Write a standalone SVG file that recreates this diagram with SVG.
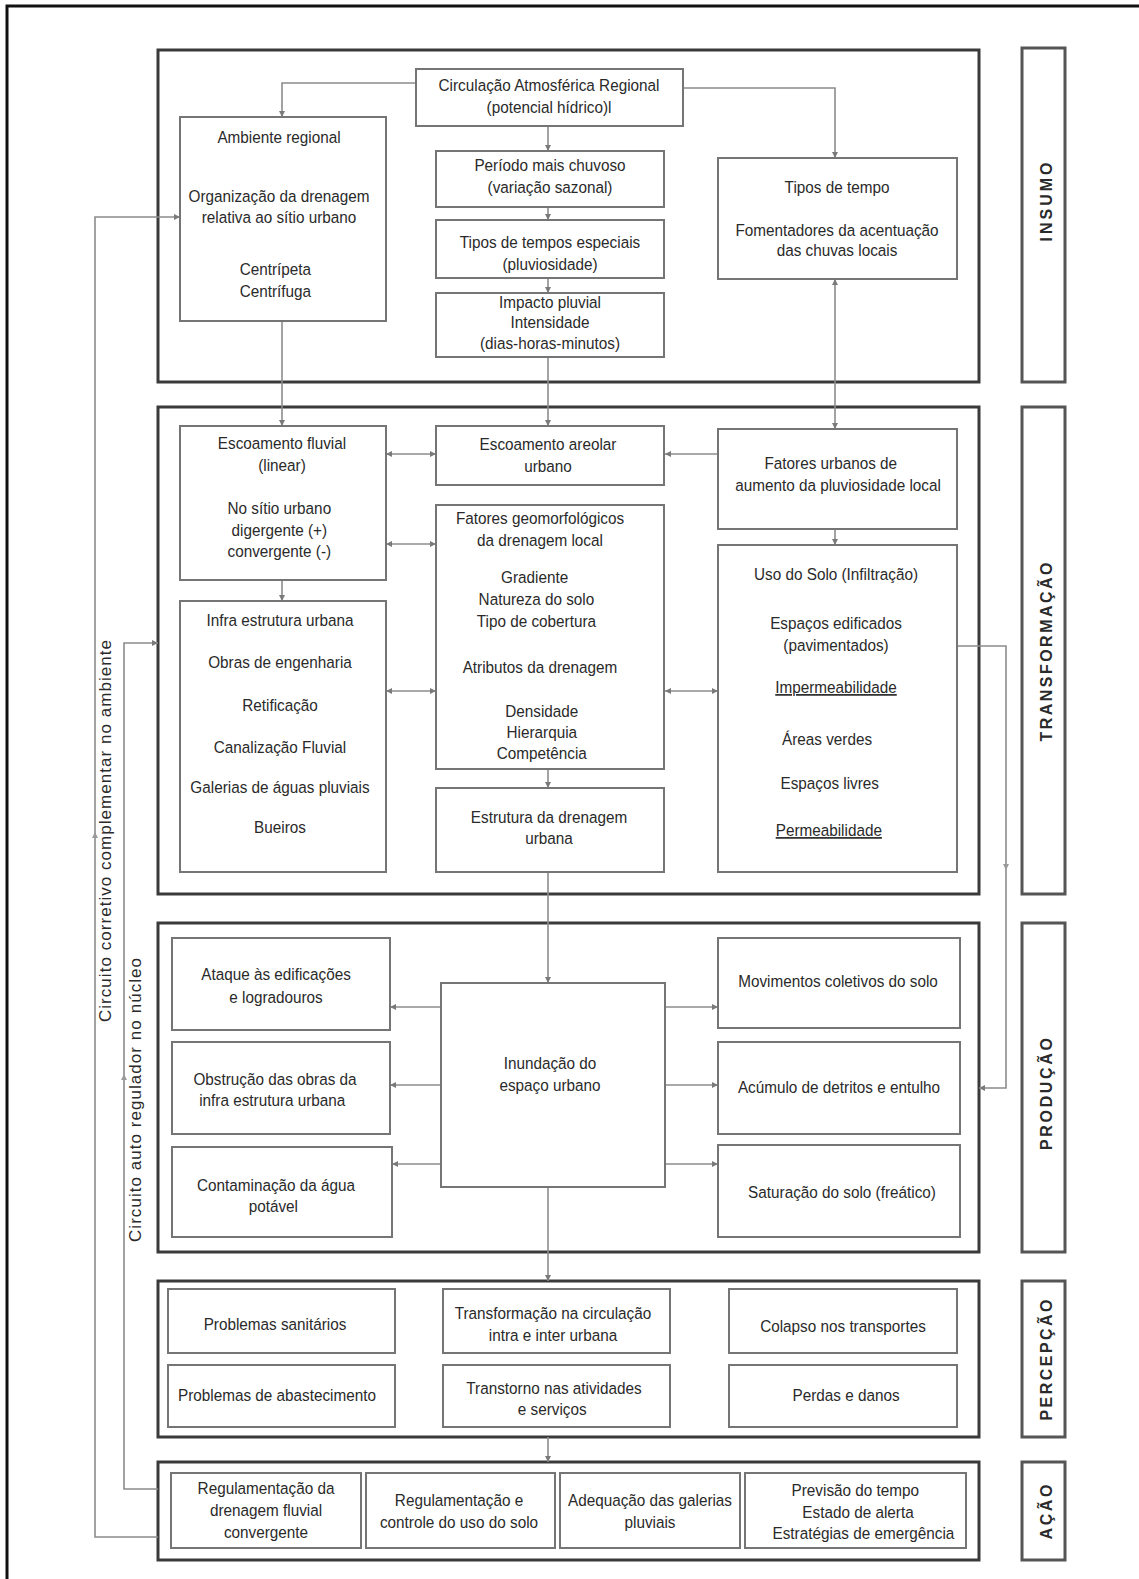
<svg xmlns="http://www.w3.org/2000/svg" width="1139" height="1579" viewBox="0 0 1139 1579">
<defs>
<style>
.sec{fill:none;stroke:#3a3a3a;stroke-width:3}
.lab{fill:none;stroke:#555;stroke-width:3}
.box{fill:#fff;stroke:#757575;stroke-width:2}
.t{font-family:"Liberation Sans",Arial,sans-serif;font-size:17px;fill:#2a2a2a;text-anchor:middle}
.sl{font-family:"Liberation Sans",Arial,sans-serif;font-size:16px;font-weight:bold;fill:#2a2a2a;text-anchor:middle}
.ct{font-family:"Liberation Sans",Arial,sans-serif;font-size:17px;fill:#2a2a2a;text-anchor:middle}
.c{fill:none;stroke:#8c8c8c;stroke-width:1.6}
.u{text-decoration:underline}
</style>
<marker id="ah" viewBox="0 0 6 6" refX="6" refY="3" markerWidth="6" markerHeight="6" markerUnits="userSpaceOnUse" orient="auto-start-reverse">
<path d="M0,0 L6,3 L0,6 z" fill="#7a7a7a"/>
</marker>
</defs>
<rect width="1139" height="1579" fill="#fff"/>
<rect x="7" y="6" width="1200" height="1700" fill="none" stroke="#111" stroke-width="3"/>

<g id="sections">
<rect class="sec" x="158" y="50" width="821" height="332"/>
<rect class="sec" x="158" y="407" width="821" height="487"/>
<rect class="sec" x="158" y="923" width="821" height="329"/>
<rect class="sec" x="158" y="1281" width="821" height="156"/>
<rect class="sec" x="158" y="1462" width="821" height="98"/>
</g>

<g id="labels">
<g id="lab-insumo"><rect class="lab" x="1022" y="48" width="43" height="334"/><text class="sl" transform="translate(1052 202) rotate(-90)" textLength="79" lengthAdjust="spacing">INSUMO</text></g>
<g id="lab-transformacao"><rect class="lab" x="1022" y="407" width="43" height="487"/><text class="sl" transform="translate(1052 652) rotate(-90)" textLength="179" lengthAdjust="spacing">TRANSFORMAÇÃO</text></g>
<g id="lab-producao"><rect class="lab" x="1022" y="923" width="43" height="329"/><text class="sl" transform="translate(1052 1094) rotate(-90)" textLength="112" lengthAdjust="spacing">PRODUÇÃO</text></g>
<g id="lab-percepcao"><rect class="lab" x="1022" y="1281" width="43" height="156"/><text class="sl" transform="translate(1052 1360) rotate(-90)" textLength="121" lengthAdjust="spacing">PERCEPÇÃO</text></g>
<g id="lab-acao"><rect class="lab" x="1022" y="1462" width="43" height="98"/><text class="sl" transform="translate(1052 1512) rotate(-90)" textLength="55" lengthAdjust="spacing">AÇÃO</text></g>
</g>

<g id="connectors">
<path class="c" d="M416,83 H282 V117" marker-end="url(#ah)"/>
<path class="c" d="M683,88 H835 V158" marker-end="url(#ah)"/>
<path class="c" d="M548,126 V151" marker-end="url(#ah)"/>
<path class="c" d="M548,207 V220" marker-end="url(#ah)"/>
<path class="c" d="M548,278 V293" marker-end="url(#ah)"/>
<path class="c" d="M548,357 V426" marker-end="url(#ah)"/>
<path class="c" d="M282,321 V426" marker-end="url(#ah)"/>
<path class="c" d="M835,279 V429" marker-start="url(#ah)" marker-end="url(#ah)"/>
<path class="c" d="M436,454 H386" marker-start="url(#ah)" marker-end="url(#ah)"/>
<path class="c" d="M718,454 H665" marker-end="url(#ah)"/>
<path class="c" d="M436,544 H386" marker-start="url(#ah)" marker-end="url(#ah)"/>
<path class="c" d="M282,580 V601" marker-end="url(#ah)"/>
<path class="c" d="M436,691 H386" marker-start="url(#ah)" marker-end="url(#ah)"/>
<path class="c" d="M665,691 H718" marker-start="url(#ah)" marker-end="url(#ah)"/>
<path class="c" d="M835,529 V545" marker-end="url(#ah)"/>
<path class="c" d="M548,769 V788" marker-end="url(#ah)"/>
<path class="c" d="M548,872 V983" marker-end="url(#ah)"/>
<path class="c" d="M957,646 H1006 V1088 H979" marker-end="url(#ah)"/>
<path class="c" d="M441,1007 H390" marker-end="url(#ah)"/>
<path class="c" d="M441,1085 H390" marker-end="url(#ah)"/>
<path class="c" d="M441,1164 H392" marker-end="url(#ah)"/>
<path class="c" d="M665,1007 H718" marker-end="url(#ah)"/>
<path class="c" d="M665,1085 H718" marker-end="url(#ah)"/>
<path class="c" d="M665,1164 H718" marker-end="url(#ah)"/>
<path class="c" d="M548,1187 V1281" marker-end="url(#ah)"/>
<path class="c" d="M548,1437 V1462" marker-end="url(#ah)"/>
<path class="c" d="M158,1537 H95 V217 H180" marker-end="url(#ah)"/>
<path class="c" d="M158,1489 H124 V643 H158" marker-end="url(#ah)"/>
<path d="M92,838 L95,832 L98,838 z M121,1080 L124,1074 L127,1080 z M1003,864 L1006,870 L1009,864 z" fill="#9a9a9a"/>
</g>

<g id="circuit-labels">
<text class="ct" transform="translate(111 831) rotate(-90)" textLength="382" lengthAdjust="spacing">Circuito corretivo complementar no ambiente</text>
<text class="ct" transform="translate(141 1100) rotate(-90)" textLength="284" lengthAdjust="spacing">Circuito auto regulador no núcleo</text>
</g>

<g id="n-circulacao"><rect class="box" x="416" y="69" width="267" height="57"/>
<text class="t" transform="translate(549 0) scale(.9 1)"><tspan x="0" y="91">Circulação Atmosférica Regional</tspan><tspan x="0" y="113">(potencial hídrico)l</tspan></text></g>

<g id="n-ambiente"><rect class="box" x="180" y="117" width="206" height="204"/>
<text class="t" transform="translate(279 0) scale(.9 1)"><tspan x="0" y="143">Ambiente regional</tspan><tspan x="0" y="202">Organização da drenagem</tspan><tspan x="0" y="223">relativa ao sítio urbano</tspan><tspan x="-4" y="275">Centrípeta</tspan><tspan x="-4" y="297">Centrífuga</tspan></text></g>

<g id="n-periodo"><rect class="box" x="436" y="151" width="228" height="56"/>
<text class="t" transform="translate(550 0) scale(.9 1)"><tspan x="0" y="171">Período mais chuvoso</tspan><tspan x="0" y="193">(variação sazonal)</tspan></text></g>

<g id="n-tipos-especiais"><rect class="box" x="436" y="220" width="228" height="58"/>
<text class="t" transform="translate(550 0) scale(.9 1)"><tspan x="0" y="248">Tipos de tempos especiais</tspan><tspan x="0" y="270">(pluviosidade)</tspan></text></g>

<g id="n-impacto"><rect class="box" x="436" y="293" width="228" height="64"/>
<text class="t" transform="translate(550 0) scale(.9 1)"><tspan x="0" y="308">Impacto pluvial</tspan><tspan x="0" y="328">Intensidade</tspan><tspan x="0" y="349">(dias-horas-minutos)</tspan></text></g>

<g id="n-tipos-tempo"><rect class="box" x="718" y="158" width="239" height="121"/>
<text class="t" transform="translate(837 0) scale(.9 1)"><tspan x="0" y="193">Tipos de tempo</tspan><tspan x="0" y="236">Fomentadores da acentuação</tspan><tspan x="0" y="256">das chuvas locais</tspan></text></g>

<g id="n-esc-fluvial"><rect class="box" x="180" y="426" width="206" height="154"/>
<text class="t" transform="translate(282 0) scale(.9 1)"><tspan x="0" y="449">Escoamento fluvial</tspan><tspan x="0" y="471">(linear)</tspan><tspan x="-3" y="514">No sítio urbano</tspan><tspan x="-3" y="536">digergente (+)</tspan><tspan x="-3" y="557">convergente (-)</tspan></text></g>

<g id="n-infra"><rect class="box" x="180" y="601" width="206" height="271"/>
<text class="t" transform="translate(280 0) scale(.9 1)"><tspan x="0" y="626">Infra estrutura urbana</tspan><tspan x="0" y="668">Obras de engenharia</tspan><tspan x="0" y="711">Retificação</tspan><tspan x="0" y="753">Canalização Fluvial</tspan><tspan x="0" y="793">Galerias de águas pluviais</tspan><tspan x="0" y="833">Bueiros</tspan></text></g>

<g id="n-esc-areolar"><rect class="box" x="436" y="426" width="228" height="59"/>
<text class="t" transform="translate(548 0) scale(.9 1)"><tspan x="0" y="450">Escoamento areolar</tspan><tspan x="0" y="472">urbano</tspan></text></g>

<g id="n-geo"><rect class="box" x="436" y="505" width="228" height="264"/>
<text class="t" transform="translate(540 0) scale(.9 1)"><tspan x="0" y="524">Fatores geomorfológicos</tspan><tspan x="0" y="546">da drenagem local</tspan><tspan x="-6" y="583">Gradiente</tspan><tspan x="-4" y="605">Natureza do solo</tspan><tspan x="-4" y="627">Tipo de cobertura</tspan><tspan x="0" y="673">Atributos da drenagem</tspan><tspan x="2" y="717">Densidade</tspan><tspan x="2" y="738">Hierarquia</tspan><tspan x="2" y="759">Competência</tspan></text></g>

<g id="n-estrutura"><rect class="box" x="436" y="788" width="228" height="84"/>
<text class="t" transform="translate(549 0) scale(.9 1)"><tspan x="0" y="823">Estrutura da drenagem</tspan><tspan x="0" y="844">urbana</tspan></text></g>

<g id="n-fatores-urbanos"><rect class="box" x="718" y="429" width="239" height="100"/>
<text class="t" transform="translate(838 0) scale(.9 1)"><tspan x="-8" y="469">Fatores urbanos de</tspan><tspan x="0" y="491">aumento da pluviosidade local</tspan></text></g>

<g id="n-uso-solo"><rect class="box" x="718" y="545" width="239" height="327"/>
<text class="t" transform="translate(836 0) scale(.9 1)"><tspan x="0" y="580">Uso do Solo (Infiltração)</tspan><tspan x="0" y="629">Espaços edificados</tspan><tspan x="0" y="651">(pavimentados)</tspan><tspan class="u" x="0" y="693">Impermeabilidade</tspan><tspan x="-10" y="745">Áreas verdes</tspan><tspan x="-7" y="789">Espaços livres</tspan><tspan class="u" x="-8" y="836">Permeabilidade</tspan></text></g>

<g id="n-ataque"><rect class="box" x="172" y="938" width="218" height="92"/>
<text class="t" transform="translate(276 0) scale(.9 1)"><tspan x="0" y="980">Ataque às edificações</tspan><tspan x="0" y="1003">e logradouros</tspan></text></g>

<g id="n-obstrucao"><rect class="box" x="172" y="1042" width="218" height="92"/>
<text class="t" transform="translate(275 0) scale(.9 1)"><tspan x="0" y="1085">Obstrução das obras da</tspan><tspan x="-3" y="1106">infra estrutura urbana</tspan></text></g>

<g id="n-contaminacao"><rect class="box" x="172" y="1147" width="220" height="90"/>
<text class="t" transform="translate(276 0) scale(.9 1)"><tspan x="0" y="1191">Contaminação da água</tspan><tspan x="-3" y="1212">potável</tspan></text></g>

<g id="n-inundacao"><rect class="box" x="441" y="983" width="224" height="204"/>
<text class="t" transform="translate(550 0) scale(.9 1)"><tspan x="0" y="1069">Inundação do</tspan><tspan x="0" y="1091">espaço urbano</tspan></text></g>

<g id="n-movimentos"><rect class="box" x="718" y="938" width="242" height="90"/>
<text class="t" transform="translate(838 0) scale(.9 1)"><tspan x="0" y="987">Movimentos coletivos do solo</tspan></text></g>

<g id="n-acumulo"><rect class="box" x="718" y="1042" width="242" height="92"/>
<text class="t" transform="translate(839 0) scale(.9 1)"><tspan x="0" y="1093">Acúmulo de detritos e entulho</tspan></text></g>

<g id="n-saturacao"><rect class="box" x="718" y="1145" width="242" height="92"/>
<text class="t" transform="translate(842 0) scale(.9 1)"><tspan x="0" y="1198">Saturação do solo (freático)</tspan></text></g>

<g id="n-prob-sanitarios"><rect class="box" x="168" y="1289" width="227" height="64"/>
<text class="t" transform="translate(275 0) scale(.9 1)"><tspan x="0" y="1330">Problemas sanitários</tspan></text></g>

<g id="n-prob-abastecimento"><rect class="box" x="168" y="1365" width="227" height="62"/>
<text class="t" transform="translate(277 0) scale(.9 1)"><tspan x="0" y="1401">Problemas de abastecimento</tspan></text></g>

<g id="n-transf-circulacao"><rect class="box" x="443" y="1289" width="227" height="64"/>
<text class="t" transform="translate(553 0) scale(.9 1)"><tspan x="0" y="1319">Transformação na circulação</tspan><tspan x="0" y="1341">intra e inter urbana</tspan></text></g>

<g id="n-transtorno"><rect class="box" x="443" y="1365" width="227" height="62"/>
<text class="t" transform="translate(554 0) scale(.9 1)"><tspan x="0" y="1394">Transtorno nas atividades</tspan><tspan x="-2" y="1415">e serviços</tspan></text></g>

<g id="n-colapso"><rect class="box" x="729" y="1289" width="228" height="64"/>
<text class="t" transform="translate(843 0) scale(.9 1)"><tspan x="0" y="1332">Colapso nos transportes</tspan></text></g>

<g id="n-perdas"><rect class="box" x="729" y="1365" width="228" height="62"/>
<text class="t" transform="translate(846 0) scale(.9 1)"><tspan x="0" y="1401">Perdas e danos</tspan></text></g>

<g id="n-reg-drenagem"><rect class="box" x="171" y="1473" width="190" height="75"/>
<text class="t" transform="translate(266 0) scale(.9 1)"><tspan x="0" y="1494">Regulamentação da</tspan><tspan x="0" y="1516">drenagem fluvial</tspan><tspan x="0" y="1538">convergente</tspan></text></g>

<g id="n-reg-controle"><rect class="box" x="366" y="1473" width="189" height="75"/>
<text class="t" transform="translate(459 0) scale(.9 1)"><tspan x="0" y="1506">Regulamentação e</tspan><tspan x="0" y="1528">controle do uso do solo</tspan></text></g>

<g id="n-adequacao"><rect class="box" x="560" y="1473" width="180" height="75"/>
<text class="t" transform="translate(650 0) scale(.9 1)"><tspan x="0" y="1506">Adequação das galerias</tspan><tspan x="0" y="1528">pluviais</tspan></text></g>

<g id="n-previsao"><rect class="box" x="745" y="1473" width="221" height="75"/>
<text class="t" transform="translate(858 0) scale(.9 1)"><tspan x="-3" y="1496">Previsão do tempo</tspan><tspan x="0" y="1518">Estado de alerta</tspan><tspan x="6" y="1539">Estratégias de emergência</tspan></text></g>
</svg>
